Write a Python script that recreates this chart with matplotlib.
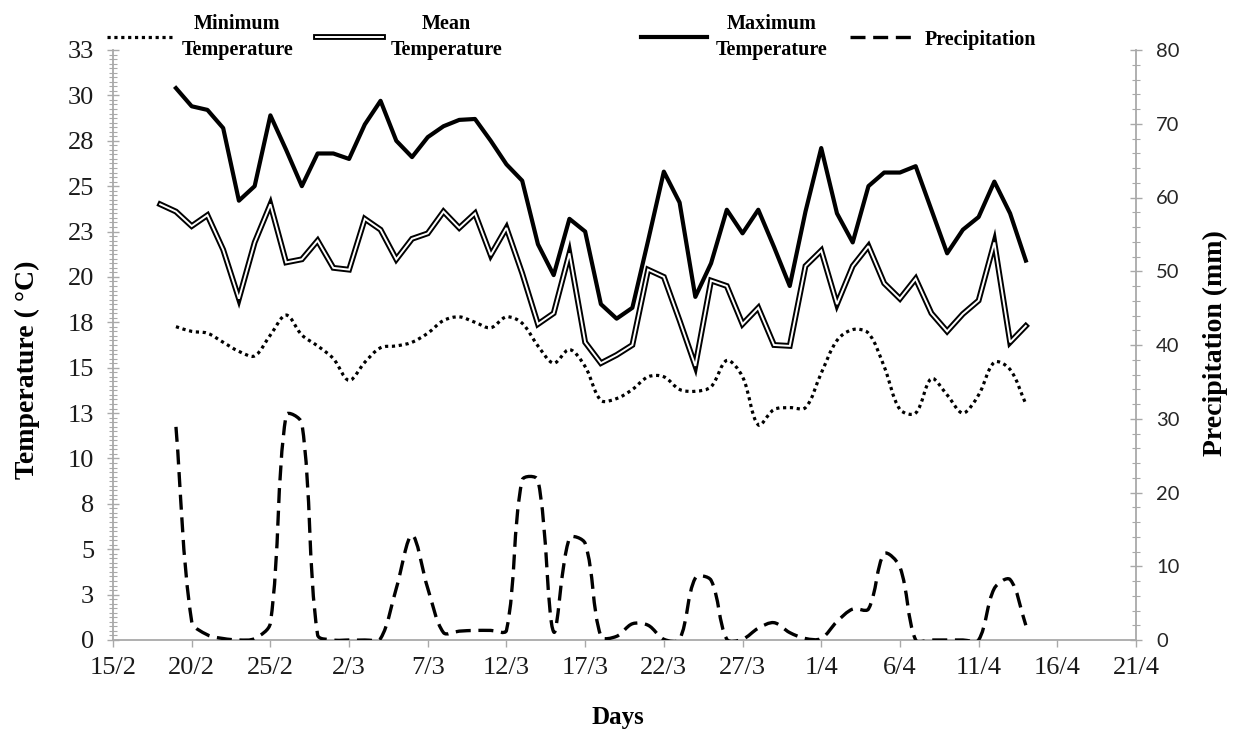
import numpy as np
import matplotlib
matplotlib.use("Agg")
import matplotlib.pyplot as plt
import matplotlib.dates as mdates
import matplotlib.patheffects as pe
from matplotlib.path import Path
from matplotlib.patches import PathPatch
from matplotlib.lines import Line2D
from matplotlib.ticker import MultipleLocator

# ---------------- data ----------------
axis_start = np.datetime64("2015-02-15")
axis_end = np.datetime64("2015-04-21")
mean_first_day = np.datetime64("2015-02-18")
first_day = np.datetime64("2015-02-19")
last_day = np.datetime64("2015-04-14")

max_temp = [30.4, 29.4, 29.2, 28.2, 24.2, 25.0, 28.9, 27.0, 25.0, 26.8,
            26.8, 26.5, 28.4, 29.7, 27.5, 26.6, 27.7, 28.3, 28.65, 28.7,
            27.5, 26.2, 25.3, 21.8, 20.1, 23.2, 22.5, 18.5, 17.7, 18.3,
            22.0, 25.8, 24.1, 18.9, 20.75, 23.7, 22.4, 23.7, 21.65, 19.5,
            23.6, 27.1, 23.5, 21.9, 25.0, 25.75, 25.75, 26.1, 23.7, 21.3,
            22.6, 23.3, 25.25, 23.5, 20.9]

mean_temp = [24.0, 23.6, 22.8, 23.4, 21.5, 18.8, 21.9, 24.0, 20.8, 20.97,
             22.0, 20.5, 20.4, 23.2, 22.6, 20.97, 22.1, 22.4, 23.6, 22.7,
             23.5, 21.2, 22.7, 20.2, 17.4, 18.0, 21.3, 16.4, 15.25, 15.7,
             16.25, 20.4, 20.0, 17.6, 15.1, 19.8, 19.5, 17.4, 18.3, 16.25,
             16.2, 20.6, 21.45, 18.5, 20.6, 21.7, 19.65, 18.8, 19.9, 18.0,
             17.0, 17.96, 18.7, 21.9, 16.4, 17.3]

min_temp = [17.26, 17.0, 16.9, 16.4, 15.9, 15.65, 16.8, 17.9, 16.8, 16.2,
            15.5, 14.3, 15.3, 16.1, 16.2, 16.4, 16.9, 17.6, 17.8, 17.5,
            17.2, 17.8, 17.45, 16.2, 15.25, 16.0, 15.06, 13.2, 13.3, 13.8,
            14.5, 14.5, 13.8, 13.7, 13.95, 15.4, 14.5, 11.85, 12.7, 12.8,
            12.8, 14.7, 16.5, 17.1, 16.9, 15.06, 12.7, 12.5, 14.4, 13.5,
            12.5, 13.5, 15.3, 14.9, 13.0]

precip = [28.9, 2.5, 0.7, 0.2, 0.0, 0.2, 2.3, 30.5, 29.4, 0.7,
          0.0, 0.0, 0.0, 0.2, 7.0, 14.2, 7.0, 1.0, 1.2, 1.3,
          1.3, 1.3, 21.7, 21.7, 1.1, 13.8, 13.1, 0.5, 0.5, 2.2,
          2.0, 0.1, 0.1, 8.4, 8.1, 0.1, 0.1, 1.6, 2.35, 1.0,
          0.2, 0.2, 2.5, 4.2, 4.2, 11.7, 9.9, 0.0, 0.0, 0.0,
          0.0, 0.0, 7.0, 8.2, 2.0]

temp_ticks = [0, 2.5, 5, 7.5, 10, 12.5, 15, 17.5, 20, 22.5, 25, 27.5, 30, 32.5]
temp_tick_labels = ["0", "3", "5", "8", "10", "13", "15", "18", "20", "23",
                    "25", "28", "30", "33"]
precip_ticks = [0, 10, 20, 30, 40, 50, 60, 70, 80]
date_tick_labels = ["15/2", "20/2", "25/2", "2/3", "7/3", "12/3", "17/3",
                    "22/3", "27/3", "1/4", "6/4", "11/4", "16/4", "21/4"]

legend_labels = ["Minimum\nTemperature", "Mean\nTemperature",
                 "Maximum\nTemperature", "Precipitation"]

# ---------------- figure ----------------
SERIF = "Liberation Serif"
W, H = 1235, 731
fig = plt.figure(figsize=(W / 100, H / 100), dpi=100)
ax = fig.add_axes([113 / W, 91 / H, 1023 / W, 590 / H])
ax2 = ax.twinx()

days = mdates.date2num(np.arange(first_day, last_day + 1))
mean_days = mdates.date2num(np.arange(mean_first_day, last_day + 1))
tick_days = mdates.date2num(np.arange(axis_start, axis_end + 1, 5))

ax.set_xlim(mdates.date2num(axis_start), mdates.date2num(axis_end))
ax.set_ylim(temp_ticks[0], temp_ticks[-1])
ax2.set_ylim(precip_ticks[0], precip_ticks[-1])

GREY = "#a9a9a9"
for a in (ax, ax2):
    a.set_facecolor("none")
    for s in a.spines.values():
        s.set_visible(False)
ax.spines["left"].set_visible(True)
ax.spines["bottom"].set_visible(True)
ax2.spines["right"].set_visible(True)
for s in (ax.spines["left"], ax.spines["bottom"], ax2.spines["right"]):
    s.set_color(GREY)
    s.set_linewidth(1.3)

ax.set_yticks(temp_ticks, temp_tick_labels)
ax.yaxis.set_minor_locator(MultipleLocator(0.25))
ax.tick_params(axis="y", which="major", direction="inout", length=9, width=1.0,
               color=GREY, labelsize=19, pad=9, labelfontfamily=SERIF,
               labelcolor="#1a1a1a")
ax.tick_params(axis="y", which="minor", direction="inout", length=5.5,
               width=0.8, color=GREY)
ax.set_xticks(tick_days, date_tick_labels)
ax.tick_params(axis="x", which="major", direction="out", length=5, width=1.0,
               color=GREY, labelsize=19, pad=7, labelfontfamily=SERIF,
               labelcolor="#1a1a1a")

ax2.set_yticks(precip_ticks, [str(v) for v in precip_ticks])
ax2.yaxis.set_minor_locator(MultipleLocator(2))
ax2.tick_params(axis="y", which="major", direction="inout", length=9, width=1.0,
                color=GREY, labelsize=14.5, pad=10, labelfontfamily="Lato",
                labelcolor="#262626")
ax2.tick_params(axis="y", which="minor", direction="inout", length=5.5,
                width=0.8, color=GREY)

# axis titles
ax.set_ylabel("Temperature ( °C)", fontfamily=SERIF, fontweight="bold",
              fontsize=20)
ax.yaxis.set_label_coords((40 - 113) / 1023, (640 - 370) / 590)
ax2.set_ylabel("Precipitation (mm)", fontfamily=SERIF, fontweight="bold",
               fontsize=20, rotation=90)
ax2.yaxis.set_label_coords((1203 - 113) / 1023, (640 - 343) / 590)
ax.set_xlabel("Days", fontfamily=SERIF, fontweight="bold", fontsize=18)
ax.xaxis.set_label_coords((618 - 113) / 1023, (640 - 706) / 590)


# ---------------- series ----------------
def smooth_patch(a, x, y, **kw):
    """Excel-like smoothed line: cubic Bezier through the data points,
    with control points computed in display space."""
    pts = a.transData.transform(np.column_stack([x, y]))
    n = len(pts)
    t = 1.0 / 3.0
    verts = [pts[0]]
    codes = [Path.MOVETO]
    for i in range(n - 1):
        p0 = pts[i - 1] if i > 0 else pts[i]
        p1 = pts[i]
        p2 = pts[i + 1]
        p3 = pts[i + 2] if i + 2 < n else pts[i + 1]
        d01 = np.hypot(*(p1 - p0))
        d12 = np.hypot(*(p2 - p1))
        d23 = np.hypot(*(p3 - p2))
        c1 = p1 + (p2 - p0) * (d12 / (d01 + d12)) * t
        c2 = p2 - (p3 - p1) * (d12 / (d12 + d23)) * t
        verts += [c1, c2, p2]
        codes += [Path.CURVE4] * 3
    data_verts = a.transData.inverted().transform(np.array(verts))
    patch = PathPatch(Path(data_verts, codes), fill=False, **kw)
    a.add_patch(patch)
    return patch


min_style = dict(color="black", linewidth=2.3, linestyle=(0, (1, 1.15)))
pre_style = dict(color="black", linewidth=2.4, linestyle=(0, (4.5, 2.3)))
mean_fx = [pe.Stroke(linewidth=4.2, foreground="black"),
           pe.Stroke(linewidth=1.4, foreground="white")]

smooth_patch(ax, days, min_temp, edgecolor="black", linewidth=2.3,
             linestyle=(0, (1, 1.15)), capstyle="butt", joinstyle="round")
ax.plot(mean_days, mean_temp, color="white", linewidth=1.4,
        path_effects=mean_fx, solid_joinstyle="miter")
ax.plot(days, max_temp, color="black", linewidth=3.0, solid_joinstyle="round")
smooth_patch(ax2, days, precip, edgecolor="black", linewidth=2.4,
             linestyle=(0, (4.5, 2.3)), capstyle="butt", joinstyle="round")

# ---------------- legend ----------------
h_min = Line2D([], [], **min_style)
h_mean = Line2D([], [], color="white", linewidth=1.4, path_effects=mean_fx)
h_max = Line2D([], [], color="black", linewidth=3.0)
h_pre = Line2D([], [], **pre_style)

leg_kw = dict(ncol=2, loc="center left", frameon=False, borderpad=0,
              borderaxespad=0, handlelength=3.3, handletextpad=0.4,
              columnspacing=1.15,
              prop={"family": SERIF, "weight": "bold", "size": 14.5})
leg1 = fig.legend([h_min, h_mean], legend_labels[:2],
                  bbox_to_anchor=(107 / W, 1 - 37 / H), **leg_kw)
leg2 = fig.legend([h_max, h_pre], legend_labels[2:],
                  bbox_to_anchor=(641 / W, 1 - 37 / H), **leg_kw)
for lg in (leg1, leg2):
    for txt in lg.get_texts():
        txt.set_multialignment("center")
        txt.set_linespacing(1.45)

fig.savefig("out.png", dpi=100)
